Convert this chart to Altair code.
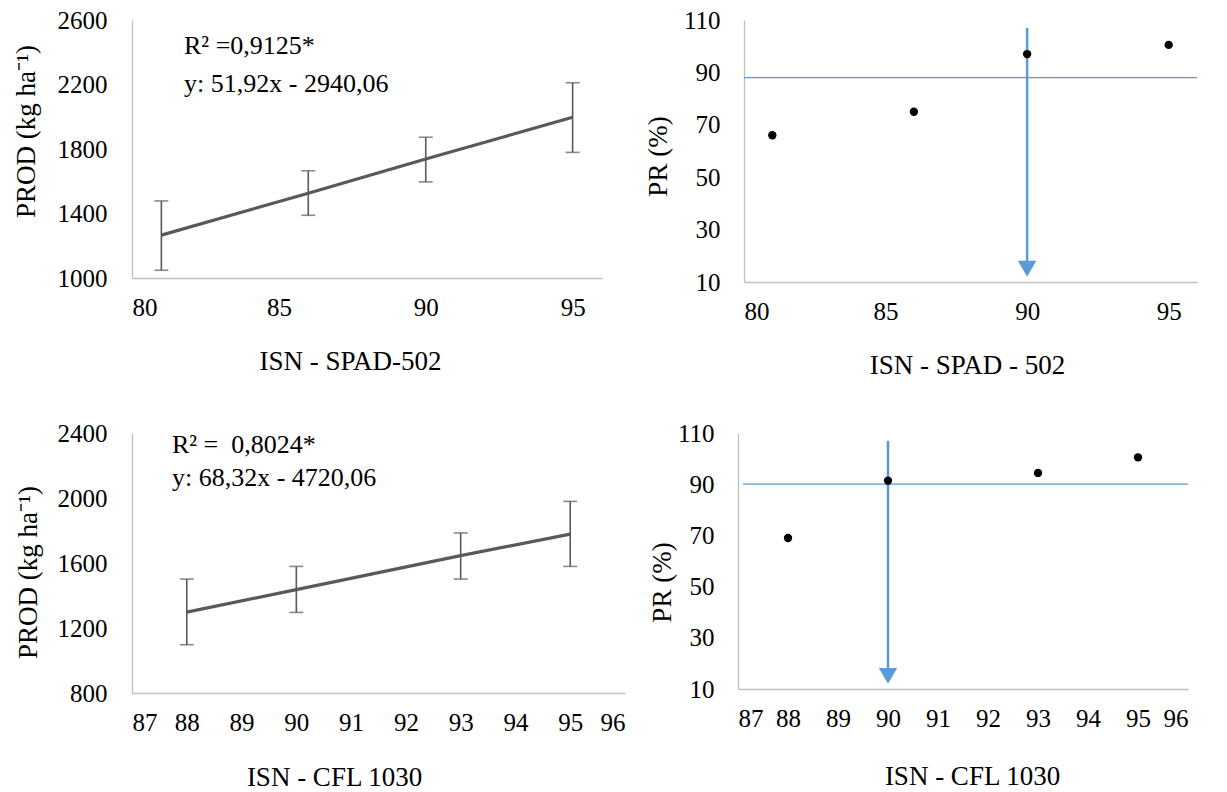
import altair as alt
import pandas as pd

# ---- data ----
spad_x = [81, 86, 90, 95]
spad_prod = [1266, 1526, 1738, 1997]
spad_lo = [1048, 1389, 1596, 1779]
spad_hi = [1478, 1665, 1873, 2211]
spad_pr = [66, 75, 97, 100.5]
spad_ref = 88

cfl_x = [88, 90, 93, 95]
cfl_prod = [1298, 1436, 1645, 1778]
cfl_lo = [1097, 1296, 1501, 1579]
cfl_hi = [1501, 1579, 1785, 1979]
cfl_pr = [69, 91.4, 94.4, 100.5]
cfl_ref = 90

arrow_x = 90
arrow_top = 107
arrow_tip = 12

spad_ticks = [80, 85, 90, 95]
cfl_ticks = [87, 88, 89, 90, 91, 92, 93, 94, 95, 96]
prod1_ticks = [1000, 1400, 1800, 2200, 2600]
prod2_ticks = [800, 1200, 1600, 2000, 2400]
pr_ticks = [10, 30, 50, 70, 90, 110]

eq1 = ["R² =0,9125*", "y: 51,92x - 2940,06"]
eq2 = ["R² =\u00a0 0,8024*", "y: 68,32x - 4720,06"]

FONT = "Liberation Serif"
GRAY = "#595959"
BLUE = "#5B9BD5"
AXIS_GRAY = "#BFBFBF"

def xaxis(title, ticks, tx, ty):
    return alt.Axis(title=title, values=ticks, titleX=tx, titleY=ty,
                    titleAlign="center", titleBaseline="middle",
                    labelPadding=17, format="d",
                    labelFont=FONT, labelFontSize=25, titleFont=FONT, titleFontSize=27)

def yaxis(title, ticks, tx, ty, pad):
    return alt.Axis(title=title, values=ticks, titleX=tx, titleY=ty,
                    titleAlign="center", titleBaseline="middle", titleAngle=270,
                    labelPadding=pad, format="d",
                    labelFont=FONT, labelFontSize=25, titleFont=FONT, titleFontSize=27)

def prod_panel(xs, means, lo, hi, xdom, xticks, ydom, yticks, eq, eqx, eqy, w, h,
               xtitle, xt, yt):
    df = pd.DataFrame({"x": xs, "m": means, "lo": lo, "hi": hi})
    base = alt.Chart(df)
    X = alt.X("x:Q", scale=alt.Scale(domain=xdom, nice=False, zero=False),
              axis=xaxis(xtitle, xticks, xt[0], xt[1]))
    Y = alt.Y("m:Q", scale=alt.Scale(domain=ydom, nice=False, zero=False),
              axis=yaxis("PROD (kg ha⁻¹)", yticks, yt[0], yt[1], 25))
    line = base.mark_line(color=GRAY, strokeWidth=3.2).encode(x=X, y=Y)
    bars = base.mark_rule(color=GRAY, strokeWidth=1.6).encode(
        x="x:Q", y="lo:Q", y2="hi:Q")
    cap_lo = base.mark_tick(orient="horizontal", color=GRAY, size=14,
                            thickness=1.6).encode(x="x:Q", y="lo:Q")
    cap_hi = base.mark_tick(orient="horizontal", color=GRAY, size=14,
                            thickness=1.6).encode(x="x:Q", y="hi:Q")
    t1 = alt.Chart().mark_text(align="left", baseline="middle", font=FONT,
                               fontSize=26, color="black").encode(
        x=alt.datum(eqx), y=alt.datum(eqy[0]), text=alt.value(eq[0]))
    t2 = alt.Chart().mark_text(align="left", baseline="middle", font=FONT,
                               fontSize=26, color="black").encode(
        x=alt.datum(eqx), y=alt.datum(eqy[1]), text=alt.value(eq[1]))
    return alt.layer(bars, cap_lo, cap_hi, line, t1, t2).properties(width=w, height=h)

def pr_panel(xs, pr, ref, xdom, xticks, w, h, xtitle, xt, yt, refx0):
    df = pd.DataFrame({"x": xs, "pr": pr})
    X = alt.X("x:Q", scale=alt.Scale(domain=xdom, nice=False, zero=False),
              axis=xaxis(xtitle, xticks, xt[0], xt[1]))
    Y = alt.Y("pr:Q", scale=alt.Scale(domain=[10, 110], nice=False, zero=False),
              axis=yaxis("PR (%)", pr_ticks, yt[0], yt[1], 24))
    pts = alt.Chart(df).mark_circle(color="black", size=70, opacity=1).encode(x=X, y=Y)
    href = alt.Chart().mark_rule(color=BLUE, strokeWidth=1.3).encode(
        x=alt.value(refx0), x2=alt.value(w), y=alt.datum(ref))
    shaft = alt.Chart().mark_rule(color=BLUE, strokeWidth=2.5).encode(
        x=alt.datum(arrow_x), y=alt.datum(arrow_top), y2=alt.datum(arrow_tip + 6))
    head = alt.Chart().mark_point(shape="triangle-down", filled=True, color=BLUE,
                                  size=340, opacity=1, yOffset=-8).encode(
        x=alt.datum(arrow_x), y=alt.datum(arrow_tip))
    return alt.layer(href, shaft, head, pts).properties(width=w, height=h)

p1 = prod_panel(spad_x, spad_prod, spad_lo, spad_hi, [80, 96], spad_ticks,
                [1000, 2600], prod1_ticks, eq1, 81.77, [2439, 2203], 470, 258,
                "ISN - SPAD-502", (218, 83), (-106, 111))
p2 = pr_panel(spad_x, spad_pr, spad_ref, [80, 96], spad_ticks, 453, 262,
              "ISN - SPAD - 502", (223, 83), (-86, 136), 0)
p3 = prod_panel(cfl_x, cfl_prod, cfl_lo, cfl_hi, [87, 96], cfl_ticks,
                [800, 2400], prod2_ticks, eq2, 87.73, [2326, 2123], 493, 260,
                "ISN - CFL 1030", (202, 84), (-104, 139))
p4 = pr_panel(cfl_x, cfl_pr, cfl_ref, [87, 96], cfl_ticks, 450, 256,
              "ISN - CFL 1030", (234, 87), (-76, 149), 5)

chart = alt.vconcat(
    alt.hconcat(p1, p2, spacing=42),
    alt.hconcat(p3, p4, spacing=23),
    spacing=43,
).properties(
    padding={"left": 4, "top": 0, "right": 0, "bottom": 0},
    background="white",
).configure_view(stroke=None).configure_axis(
    domainColor=AXIS_GRAY, domainWidth=1.3, ticks=False, grid=False,
    labelFont=FONT, labelFontSize=25, labelColor="black",
    titleFont=FONT, titleFontSize=27, titleFontWeight="normal", titleColor="black",
)

chart.save("out.html", embed_options={"renderer": "svg", "actions": False})
